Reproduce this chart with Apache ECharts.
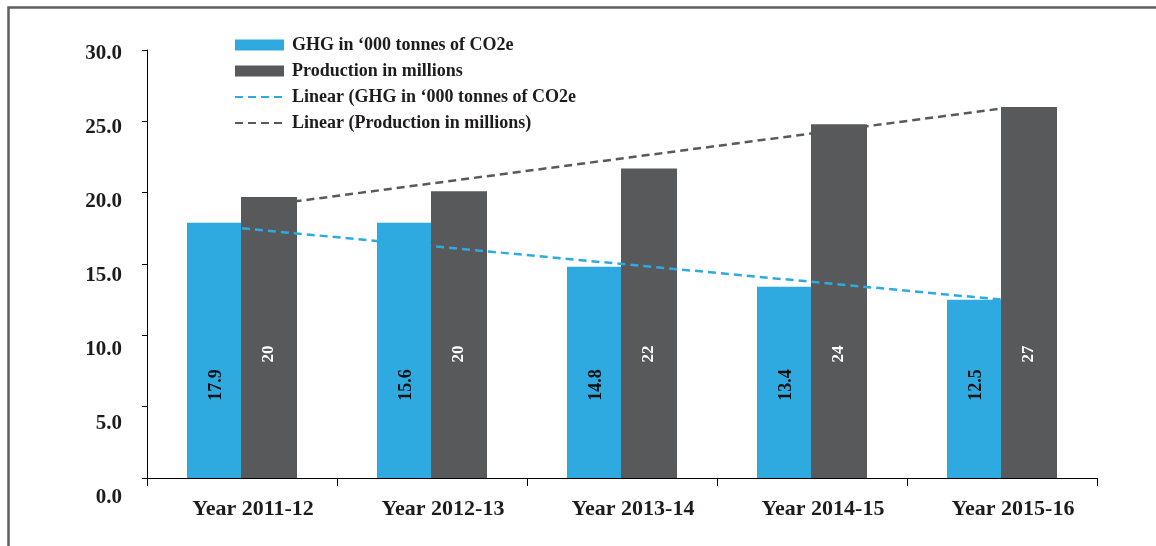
<!DOCTYPE html>
<html>
<head>
<meta charset="utf-8">
<script src="https://cdn.jsdelivr.net/npm/echarts@6/dist/echarts.min.js"></script>
<style>
html,body{margin:0;padding:0;background:#fff;}
#chart{width:1156px;height:546px;}
</style>
</head>
<body>
<div id="chart"></div>
<script>
// ---- data ----
var categories = ['Year 2011-12', 'Year 2012-13', 'Year 2013-14', 'Year 2014-15', 'Year 2015-16'];
var ghgValues = [17.9, 17.9, 14.8, 13.4, 12.5];          // bar heights as drawn
var ghgLabels = ['17.9', '15.6', '14.8', '13.4', '12.5']; // printed labels
var prodValues = [19.7, 20.1, 21.7, 24.8, 26.0];          // bar heights as drawn
var prodLabels = ['20', '20', '22', '24', '27'];          // printed labels
var ghgTrend = [['Year 2011-12', 17.5], ['Year 2015-16', 12.5]];
var prodTrend = [['Year 2011-12', 18.9], ['Year 2015-16', 25.9]];
var yTickLabels = ['0.0', '5.0', '10.0', '15.0', '20.0', '25.0', '30.0'];
var seriesNames = ['GHG in \u2018000 tonnes of CO2e', 'Production in millions',
  'Linear (GHG in \u2018000 tonnes of CO2e', 'Linear (Production in millions)'];

var BLUE = '#2eaae1', DARK = '#58595b', TXT = '#1e1b1c';
var FONT = '"Liberation Serif", "DejaVu Serif", serif';
var HIDE = { color: 'rgba(0,0,0,0)', borderColor: 'rgba(0,0,0,0)', borderWidth: 0, opacity: 0 };

var chart = echarts.init(document.getElementById('chart'));
chart.setOption({
  animation: false,
  backgroundColor: '#ffffff',
  graphic: [{
    type: 'rect', left: 6, top: 5, silent: true,
    shape: { width: 1300, height: 700 },
    style: { fill: 'none', stroke: '#5e5e5e', lineWidth: 2.5 }
  }],
  legend: {
    orient: 'vertical', left: 229, top: 31,
    itemWidth: 49, itemHeight: 11, itemGap: 8,
    textStyle: { fontFamily: FONT, fontWeight: 'bold', fontSize: 18, color: TXT, padding: [0, 0, 0, 3] },
    data: [
      { name: seriesNames[0], icon: 'rect' },
      { name: seriesNames[1], icon: 'rect' },
      { name: seriesNames[2], itemStyle: HIDE },
      { name: seriesNames[3], itemStyle: HIDE }
    ]
  },
  grid: [
    { left: 147, right: 59, top: 50, bottom: 68 },
    { left: 147, right: 59, top: 54, bottom: 48 }
  ],
  xAxis: [{
    type: 'category', data: categories, gridIndex: 0,
    axisLine: { lineStyle: { color: '#000', width: 1 } },
    axisTick: { show: true, length: 8, lineStyle: { color: '#000' } },
    axisLabel: { fontFamily: FONT, fontWeight: 'bold', fontSize: 22, color: TXT,
      margin: 20, padding: [0, 0, 0, 22] }
  }, {
    type: 'category', data: categories, gridIndex: 1, show: false
  }],
  yAxis: [{
    type: 'value', gridIndex: 0, min: 0, max: 30, interval: 5,
    axisLine: { show: true, lineStyle: { color: '#000', width: 1 } },
    axisTick: { show: true, length: 5, lineStyle: { color: '#000' } },
    axisLabel: { show: false },
    splitLine: { show: false }
  }, {
    type: 'value', gridIndex: 1, min: 0, max: 30, interval: 5,
    axisLine: { show: false }, axisTick: { show: false }, splitLine: { show: false },
    axisLabel: {
      margin: 25, fontFamily: FONT, fontWeight: 'bold', fontSize: 21, color: TXT,
      formatter: function (v) { return yTickLabels[Math.round(v / 5)]; }
    }
  }],
  series: [{
    name: seriesNames[0], type: 'bar', data: ghgValues,
    barWidth: 54, barGap: '0%',
    itemStyle: { color: BLUE },
    label: {
      show: true, position: ['50%', '100%'], offset: [93, 2], rotate: 90,
      align: 'center', verticalAlign: 'middle',
      fontFamily: FONT, fontWeight: 'bold', fontSize: 18, color: '#111',
      formatter: function (p) { return ghgLabels[p.dataIndex]; }
    }
  }, {
    name: seriesNames[1], type: 'bar', data: prodValues,
    barWidth: 56,
    itemStyle: { color: DARK },
    label: {
      show: true, position: ['50%', '100%'], offset: [124, 0], rotate: 90,
      align: 'center', verticalAlign: 'middle',
      fontFamily: FONT, fontWeight: 'bold', fontSize: 17, color: '#ffffff',
      formatter: function (p) { return prodLabels[p.dataIndex]; }
    }
  }, {
    name: seriesNames[2], type: 'line', data: ghgTrend, symbol: 'none', z: 5,
    itemStyle: { color: BLUE },
    lineStyle: { color: BLUE, width: 2.5, type: [8, 5] }
  }, {
    name: seriesNames[3], type: 'line', data: prodTrend, symbol: 'none', z: 5,
    itemStyle: { color: DARK },
    lineStyle: { color: DARK, width: 2.5, type: [8, 5] }
  }]
});
</script>
</body>
</html>
